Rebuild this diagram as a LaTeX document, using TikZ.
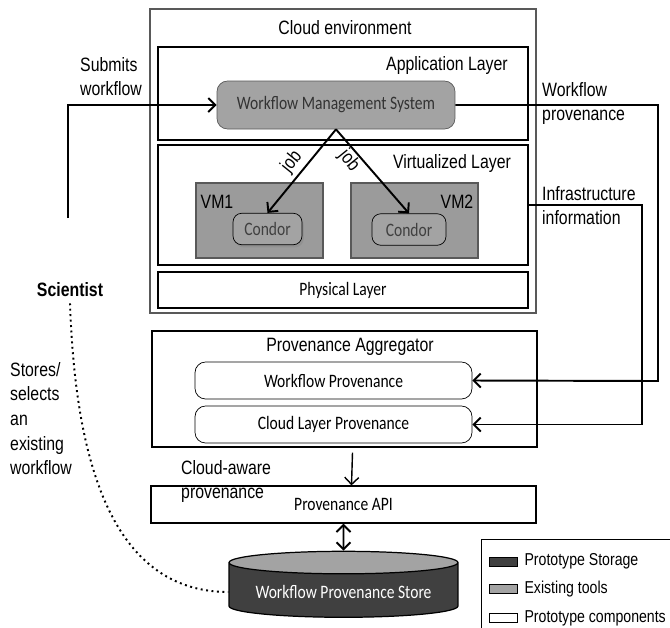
\documentclass[tikz,border=0pt]{standalone}
\usepackage{fontspec}
\setmainfont{Liberation Sans}[FakeStretch=0.82]
\newfontfamily\calfont{Carlito}[FakeStretch=0.82]
\usetikzlibrary{positioning,shapes.geometric,arrows.meta,shadows}
\definecolor{storegray}{HTML}{404040}
\definecolor{toolgray}{HTML}{A3A3A3}
\definecolor{edgegray}{HTML}{595959}

\begin{document}
\begin{tikzpicture}[x=0.02cm,y=-0.02cm,
>={Straight Barb[length=4pt,width=8pt]},
every node/.style={font=\fontsize{11}{13.5}\selectfont},
cal/.style={font=\calfont\fontsize{10.8}{13}\selectfont},
layerbox/.style={draw, line width=0.7pt, inner sep=0},
toolbox/.style={draw=edgegray, fill=toolgray, rounded corners=6pt, cal, text=black!80},
vmbox/.style={draw=edgegray, line width=0.8pt, fill=toolgray!95!black, minimum width=2.54cm, minimum height=1.5cm},
condor/.style={draw, fill=toolgray, rounded corners=5pt, cal, text=black!75, minimum height=0.63cm},
protobox/.style={draw, rounded corners=6pt, cal, minimum width=5.54cm, minimum height=0.74cm},
flow/.style={->, line width=1.1pt},
joblabel/.style={inner sep=0pt},
swatch/.style={draw, minimum width=0.56cm, minimum height=0.18cm, inner sep=0},
legtext/.style={font=\fontsize{9.8}{12}\selectfont}]
\useasboundingbox (0,0) rectangle (670,627);

\node[layerbox, draw=edgegray, minimum width=7.72cm, minimum height=6.08cm] (ce) at (343,161) {};
\node (cet) at (345,28) {Cloud environment};
\node[layerbox, minimum width=7.4cm, minimum height=1.86cm] (al) at (343,93.5) {};
\node (alt) at (447,65) {Application Layer};
\node[toolbox, minimum width=4.76cm, minimum height=0.96cm] (wms) at (336,105) {Workflow Management System};
\node[layerbox, minimum width=7.4cm, minimum height=2.4cm] (vl) at (343,205) {};
\node (vlt) at (452,163) {Virtualized Layer};
\node[vmbox] (vm1) at (259.5,220.5) {};
\node (vm1t) at (217,202) {VM1};
\node[condor, minimum width=1.38cm, drop shadow={opacity=0.35, shadow xshift=1pt, shadow yshift=-1.5pt}] (c1) at (267.5,229) {Condor};
\node[vmbox] (vm2) at (414.5,220.5) {};
\node (vm2t) at (457,202) {VM2};
\node[condor, minimum width=1.48cm] (c2) at (409,229.5) {Condor};
\node[layerbox, cal, minimum width=7.4cm, minimum height=0.72cm] (pl) at (343,290) {Physical Layer};

\node[layerbox, minimum width=7.7cm, minimum height=2.32cm] (pa) at (344.5,389) {};
\node (pat) at (350,347) {Provenance Aggregator};
\node[protobox] (wp) at (333.5,380.5) {Workflow Provenance};
\node[protobox] (clp) at (333.5,424.5) {Cloud Layer Provenance};
\node[layerbox, cal, minimum width=7.7cm, minimum height=0.74cm] (api) at (343.5,504.5) {Provenance API};
\node[shape=cylinder, shape border rotate=90, aspect=0.12, draw, line width=0.7pt, cylinder uses custom fill, cylinder body fill=storegray, cylinder end fill=toolgray, minimum width=4.58cm, minimum height=1.32cm, cal, text=white] (st) at (343.5,592) {Workflow Provenance Store};

\node[font=\fontsize{11}{13.5}\selectfont\bfseries] (sci) at (70,290) {Scientist};
\coordinate (s0) at (68,218);
\coordinate (r1) at (658,381);
\coordinate (r2) at (642,424.5);

\node[anchor=west, align=left] (swt) at (74,76.5) {Submits\\workflow};
\node[anchor=west, align=left] (wpt) at (536,103.5) {Workflow\\provenance};
\node[anchor=west, align=left] (iit) at (536,205.5) {Infrastructure\\information};
\node[anchor=west, align=left, font=\fontsize{11}{14}\selectfont] (sst) at (4,418.5) {Stores/\\selects\\an\\existing\\workflow};
\node[anchor=west, align=left] (cat) at (175,481.5) {Cloud-aware\\provenance};
\node[joblabel, rotate=51] (j1) at (292,162) {job};
\node[joblabel, rotate=-51] (j2) at (349,161) {job};

\draw[flow] (s0) |- (wms.west);
\draw[flow] (wms.south) -- (c1.north);
\draw[flow] (wms.south) -- (c2.north);
\draw[flow] (wms.east) -| (r1) -- (wp.east);
\draw[flow] (vl.east) -| (r2) -- (clp.east);
\draw[->, line width=0.8pt] ([shift={(8,5)}]pa.south) -- ([shift={(8,0)}]api.north);
\draw[flow, <->] (api.south) -- (st.north);
\draw[dotted, line width=1.1pt] (sci.south) to[out=-88, in=180] (st.west);

\node[draw, line width=0.6pt, minimum width=3.8cm, minimum height=1.8cm, anchor=north west] (lg) at (481,539) {};
\node[swatch, fill=storegray] (k1) at (503,561.5) {};
\node[swatch, fill=toolgray] (k2) at (503,589) {};
\node[swatch, fill=white] (k3) at (503,618) {};
\node[legtext, right=0.02cm of k1] (k1t) {Prototype Storage};
\node[legtext, right=0.02cm of k2] (k2t) {Existing tools};
\node[legtext, right=0.02cm of k3] (k3t) {Prototype components};
\end{tikzpicture}
\end{document}
